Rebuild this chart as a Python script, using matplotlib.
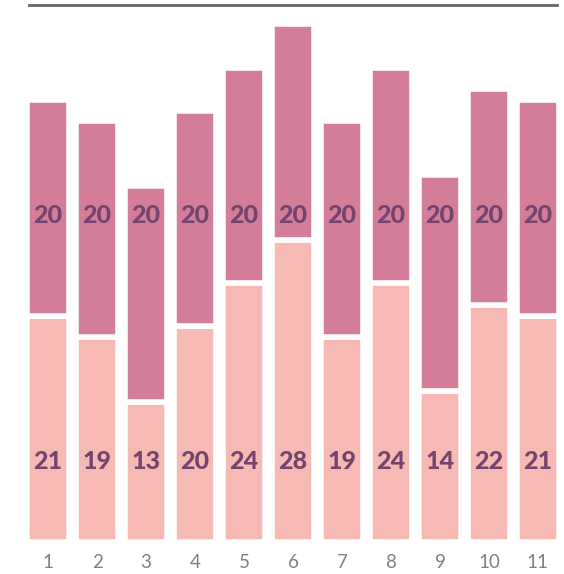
import numpy as np
import matplotlib.pyplot as plt

# data
groups = ['1', '2', '3', '4', '5', '6', '7', '8', '9', '10', '11']
lower = [21, 19, 13, 20, 24, 28, 19, 24, 14, 22, 21]
upper = [20, 20, 20, 20, 20, 20, 20, 20, 20, 20, 20]

c_lower = '#F7B9B3'
c_upper = '#D37D99'
c_text = '#74446F'

fig = plt.figure(figsize=(5.64, 5.74), dpi=100)
ax = fig.add_axes([29 / 564, 32 / 574, 528 / 564, 537 / 574])

x = np.arange(1, len(groups) + 1)
w = 0.85
ax.bar(x, lower, width=w, color=c_lower, edgecolor='white', linewidth=4)
ax.bar(x, upper, bottom=lower, width=w, color=c_upper, edgecolor='white', linewidth=4)

for xi, lo, up in zip(x, lower, upper):
    ax.text(xi, 7.5, str(lo), ha='center', va='center', fontsize=18,
            fontweight='black', color=c_text, family='Lato')
    ax.text(xi, 30.3, str(up), ha='center', va='center', fontsize=18,
            fontweight='black', color=c_text, family='Lato')

ax.set_xlim(0.61, 11.39)
ax.set_ylim(0, 49.8)
ax.set_xticks(x)
ax.set_xticklabels(groups, fontsize=13.5, color='#808080', family='Lato')
ax.tick_params(axis='x', length=0, pad=9)
ax.set_yticks([])
for s in ['left', 'right', 'bottom']:
    ax.spines[s].set_visible(False)
ax.spines['top'].set_color('#666666')
ax.spines['top'].set_linewidth(2)

fig.savefig('out.png', dpi=100, facecolor='w')
